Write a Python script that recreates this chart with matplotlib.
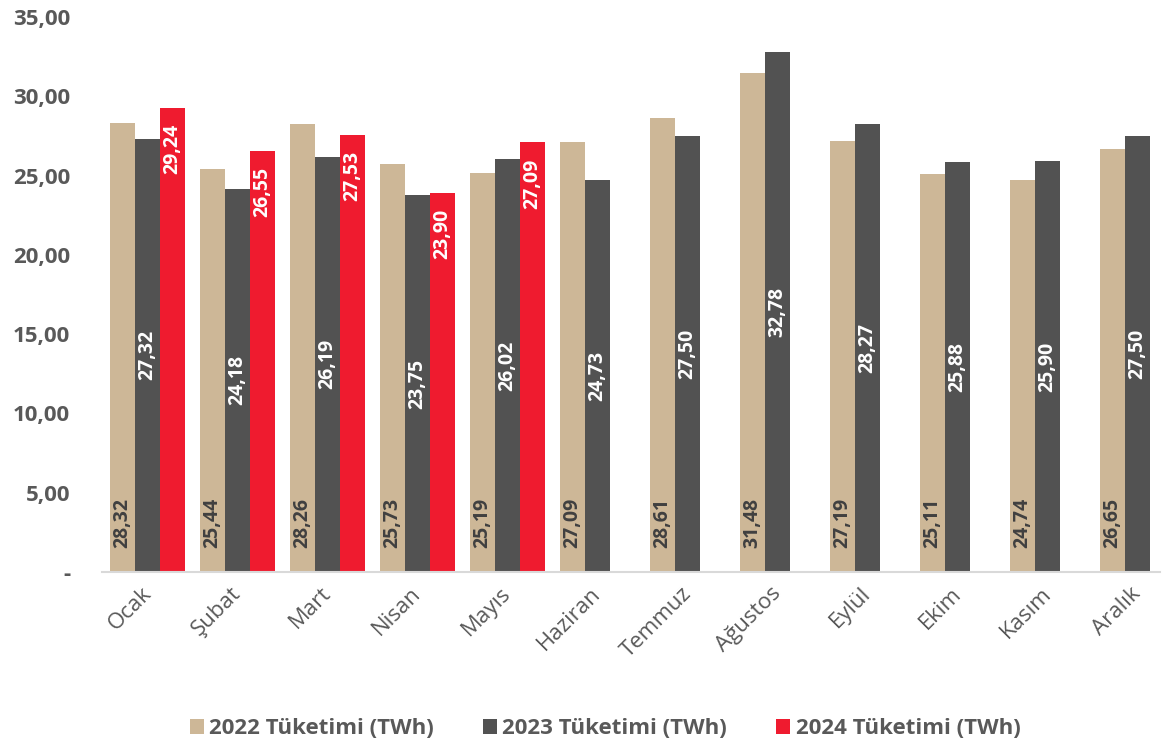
import matplotlib.pyplot as plt
import matplotlib.transforms as mtransforms
import numpy as np

plt.rcParams['font.family'] = ['Open Sans', 'DejaVu Sans']

months = ['Ocak', 'Şubat', 'Mart', 'Nisan', 'Mayıs', 'Haziran',
          'Temmuz', 'Ağustos', 'Eylül', 'Ekim', 'Kasım', 'Aralık']
y2022 = [28.32, 25.44, 28.26, 25.73, 25.19, 27.09,
         28.61, 31.48, 27.19, 25.11, 24.74, 26.65]
y2023 = [27.32, 24.18, 26.19, 23.75, 26.02, 24.73,
         27.50, 32.78, 28.27, 25.88, 25.90, 27.50]
y2024 = [29.24, 26.55, 27.53, 23.90, 27.09]
series_names = ['2022 Tüketimi (TWh)', '2023 Tüketimi (TWh)', '2024 Tüketimi (TWh)']
yticks = [0, 5, 10, 15, 20, 25, 30, 35]

c2022 = '#CDB797'
c2023 = '#525252'
c2024 = '#EF1B2F'
txt = '#595959'


def fmt(v):
    return ('%.2f' % v).replace('.', ',')


fig = plt.figure(figsize=(11.71, 7.44), dpi=100)
ax = fig.add_axes([102 / 1171, 172 / 744, (1160 - 102) / 1171, (572 - 17) / 744])

x = np.arange(len(months))
w = 0.28
b1 = ax.bar(x - w, y2022, w, color=c2022, label=series_names[0])
b2 = ax.bar(x, y2023, w, color=c2023, label=series_names[1])
b3 = ax.bar(x[:len(y2024)] + w, y2024, w, color=c2024, label=series_names[2])

# labels: 2022 at base, 2023 centered, 2024 near the top
lbl_size = 14
for xi, v in zip(x - w, y2022):
    ax.text(xi, 1.5, fmt(v), rotation=90, ha='center', va='bottom',
            color='#404040', fontsize=lbl_size, fontweight='bold')
for xi, v in zip(x, y2023):
    ax.text(xi, v / 2, fmt(v), rotation=90, ha='center', va='center',
            color='white', fontsize=lbl_size, fontweight='bold')
for xi, v in zip(x[:len(y2024)] + w, y2024):
    ax.text(xi, v - 1.0, fmt(v), rotation=90, ha='center', va='top',
            color='white', fontsize=lbl_size, fontweight='bold')

ax.set_ylim(0, 35)
ax.set_xlim(-0.506, 11.25)
ax.set_yticks(yticks)
ax.set_yticklabels(['-' if t == 0 else fmt(t) for t in yticks],
                   fontsize=16, fontweight='bold', color=txt)
ax.set_xticks(x)
ax.set_xticklabels(months, rotation=45, ha='right', rotation_mode='anchor',
                   fontsize=16, color=txt)
ax.tick_params(axis='y', length=0, pad=23)
ax.tick_params(axis='x', length=0, pad=8)

# nudge month labels a little to the left
shift = mtransforms.ScaledTranslation(-7 / 100, 0, fig.dpi_scale_trans)
for lab in ax.get_xticklabels():
    lab.set_transform(lab.get_transform() + shift)

for s in ['top', 'right', 'left']:
    ax.spines[s].set_visible(False)
ax.spines['bottom'].set_color('#D9D9D9')
ax.spines['bottom'].set_linewidth(1.5)

leg = fig.legend(handles=[b1, b2, b3], loc='center', bbox_to_anchor=(605 / 1171, 1 - 729 / 744),
                 ncol=3, frameon=False, handlelength=0.63, handleheight=0.63,
                 columnspacing=2.2, handletextpad=0.25,
                 prop={'size': 16, 'weight': 'bold'})
for t in leg.get_texts():
    t.set_color(txt)

fig.savefig('out.png', dpi=100)
